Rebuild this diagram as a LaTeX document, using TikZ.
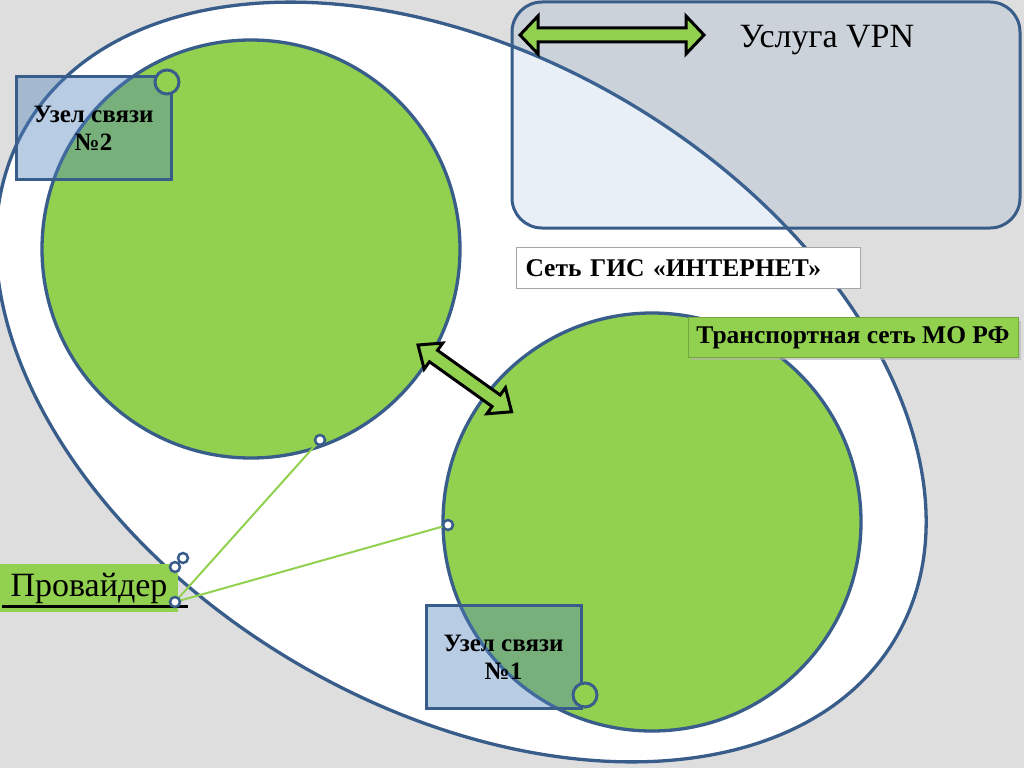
\documentclass[tikz,border=0pt]{standalone}
\usepackage{fontspec}
\setmainfont{Liberation Serif}
\definecolor{myblue}{HTML}{385D8A}
\definecolor{mygreen}{HTML}{92D050}
\definecolor{boxblue}{HTML}{4F81BD}
\definecolor{bggray}{HTML}{DEDEDE}
\begin{document}
\begin{tikzpicture}[x=1pt,y=-1pt,
  outline/.style={draw=myblue, line width=3.3pt},
  bigcircle/.style={circle, outline, fill=mygreen, minimum size=418pt, inner sep=0pt},
  nodebox/.style={draw=myblue, line width=3pt, fill=boxblue, fill opacity=0.4, text opacity=1,
    minimum width=155pt, minimum height=103pt, align=center,
    font=\bfseries\fontsize{25}{28}\selectfont},
  cornercirc/.style={circle, draw=myblue, fill=mygreen, line width=3pt, minimum size=24pt, inner sep=0pt},
  port/.style={circle, draw=myblue, fill=white, line width=2.5pt, minimum size=10pt, inner sep=0pt},
  link/.style={draw=mygreen, line width=2pt},
  fatarrow/.style={fill=mygreen, draw=black, line width=3pt, line join=miter},
  labelfont/.style={font=\bfseries\fontsize{25.5}{28}\selectfont}
]
\useasboundingbox (0,0) rectangle (1024,768);
\fill[bggray] (0,0) rectangle (1024,768);

% big white ellipse
\draw[outline, fill=white, rotate around={-30.5:(461,382)}] (461,382) ellipse [x radius=504.5, y radius=325.7];

% green circles
\node[bigcircle] (g1) at (251,249) {};
\node[bigcircle] (g2) at (652,522) {};

% VPN area
\node[draw=myblue, line width=3pt, rounded corners=30pt, fill=boxblue, fill opacity=0.12,
  minimum width=508pt, minimum height=226pt] (vpn) at (766,115) {};
\draw[fatarrow, shift={(520,35)}]
  (0,0) -- (18,-19) -- (18,-7) -- (166,-7) -- (166,-19) -- (184,0)
  -- (166,19) -- (166,7) -- (18,7) -- (18,19) -- cycle;
\node[anchor=base west, font=\fontsize{34}{38}\selectfont] (vpnlbl) at (736,48) {Услуга VPN};

% labels
\node[draw=gray!70, line width=1pt, fill=white, anchor=north west, text width=326pt,
  inner xsep=9pt, minimum height=41pt, align=left, labelfont] (gis) at (516,247) {Сеть ГИС «ИНТЕРНЕТ»};
\fill[gray!60, opacity=0.6] (691,321) rectangle (1021,360);
\node[draw=mygreen!80!black, line width=0.8pt, fill=mygreen, minimum width=330pt, minimum height=40pt,
  inner xsep=2pt, labelfont] (tr) at (853,337.5) {Транспортная сеть МО РФ};

% diagonal double arrow
\draw[fatarrow, shift={(418,345)}, rotate=-35.5]
  (0,0) -- (19,-16) -- (19,-7) -- (96,-7) -- (96,-16) -- (115,0)
  -- (96,16) -- (96,7) -- (19,7) -- (19,16) -- cycle;

% nodes
\node[nodebox] (u2) at (93.5,128) {Узел связи\\№2};
\node[cornercirc] (k2) at (167,82) {};
\node[nodebox] (u1) at (503.5,657) {Узел связи\\№1};
\node[cornercirc] (k1) at (585,695) {};

% provider
\node[fill=mygreen, minimum width=178pt, minimum height=48pt, font=\fontsize{34}{36}\selectfont] (prov) at (89,588) {Провайдер};
\draw[line width=3pt] (2,606) -- (188,606);

% links
\coordinate (pa) at (320,440);
\coordinate (pb) at (448,525);
\coordinate (pc) at (175,602);
\coordinate (pd) at (175,567);
\coordinate (pe) at (183,558);
\draw[link] (pc) -- (pa);
\draw[link] (pc) -- (pb);
\node[port] (na) at (pa) {};
\node[port] (nb) at (pb) {};
\node[port] (nc) at (pc) {};
\node[port] (nd) at (pd) {};
\node[port] (ne) at (pe) {};
\end{tikzpicture}
\end{document}
